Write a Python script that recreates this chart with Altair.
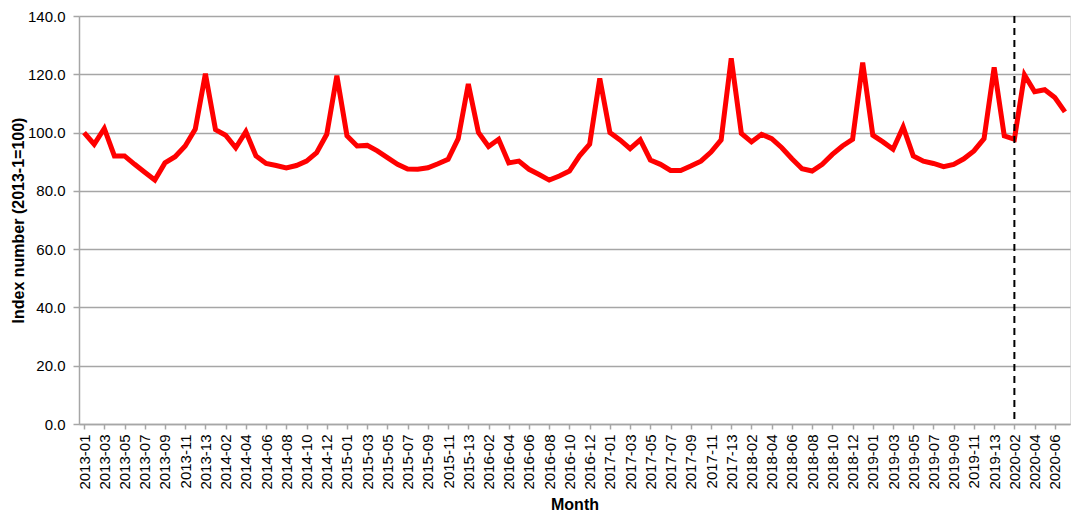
import altair as alt
import pandas as pd

# Period labels: 13 four-week periods per year, 2013-01 .. 2020-07
years_full = [2013, 2014, 2015, 2016, 2017, 2018, 2019]
periods_2020 = ["2020-01", "2020-02", "2020-03", "2020-04", "2020-05", "2020-06", "2020-07"]
months = [f"{y}-{p:02d}" for y in years_full for p in range(1, 14)] + periods_2020

index_values = [
    100.0, 96.0, 101.4, 92.0, 92.0, 89.1, 86.4, 83.7, 89.6, 91.7, 95.4, 101.2, 120.2,   # 2013
    101.0, 99.1, 94.8, 100.3, 92.0, 89.4, 88.7, 87.9, 88.7, 90.2, 93.1, 99.4, 119.5,    # 2014
    98.9, 95.4, 95.6, 93.7, 91.4, 89.1, 87.5, 87.4, 87.9, 89.3, 90.8, 97.9, 116.7,      # 2015
    100.0, 95.2, 97.7, 89.6, 90.2, 87.4, 85.6, 83.7, 85.1, 86.8, 92.0, 96.0, 118.6,     # 2016
    100.0, 97.5, 94.5, 97.5, 90.6, 89.1, 87.0, 87.0, 88.5, 90.2, 93.3, 97.5, 125.5,     # 2017
    99.7, 96.8, 99.4, 97.9, 94.8, 91.0, 87.6, 86.8, 89.1, 92.5, 95.4, 97.7, 124.0,      # 2018
    99.1, 96.8, 94.3, 101.9, 92.0, 90.2, 89.4, 88.3, 89.1, 91.0, 93.7, 97.9, 122.4,     # 2019
    98.9, 97.7, 119.8, 114.0, 114.7, 112.0, 107.1,                                      # 2020
]

tick_labels = months[::2]
marker_period = ["2020-02"]
y_ticks = [0, 20, 40, 60, 80, 100, 120, 140]

df = pd.DataFrame({"Month": months, "Index": index_values})
df_rule = pd.DataFrame({"Month": marker_period})

FONT = "Liberation Sans"
GRID = "#a6a6a6"

x_enc = alt.X(
    "Month:O",
    sort=months,
    scale=alt.Scale(type="point", domain=months, padding=0.5),
    axis=alt.Axis(
        title="Month",
        values=tick_labels,
        labelAngle=-90,
        labelFontSize=15,
        labelFont=FONT,
        labelColor="#000000",
        labelPadding=5,
        tickSize=5,
        tickColor=GRID,
        tickWidth=1.5,
        domainColor=GRID,
        domainWidth=1.5,
        titleFont=FONT,
        titleFontSize=16,
        titleFontWeight="bold",
        titleColor="#000000",
        titlePadding=7,
        grid=False,
    ),
)

line = alt.Chart(df).mark_line(color="#ff0000", strokeWidth=5, strokeJoin="miter").encode(
    x=x_enc,
    y=alt.Y(
        "Index:Q",
        scale=alt.Scale(domain=[0, 140], nice=False),
        axis=alt.Axis(
            title="Index number (2013-1=100)",
            values=y_ticks,
            format=".1f",
            labelFontSize=15,
            labelFont=FONT,
            labelColor="#000000",
            labelPadding=8,
            tickSize=6,
            tickColor=GRID,
            tickWidth=1.5,
            domainColor=GRID,
            domainWidth=1.5,
            gridColor=GRID,
            gridWidth=1.5,
            titleFont=FONT,
            titleFontSize=16,
            titleFontWeight="bold",
            titleColor="#000000",
            titlePadding=1,
        ),
    ),
)

rule = alt.Chart(df_rule).mark_rule(color="#000000", strokeWidth=2, strokeDash=[7, 5]).encode(
    x=alt.X("Month:O", sort=months, scale=alt.Scale(type="point", domain=months, padding=0.5))
)

chart = (
    alt.layer(line, rule)
    .properties(
        width=991,
        height=408,
        autosize=alt.AutoSizeParams(type="none"),
        padding={"left": 71, "top": 8, "right": 6, "bottom": 90},
    )
    .configure_view(stroke=None)
    .configure(background="#ffffff")
)

chart.save("out.html", embed_options={"renderer": "svg", "actions": False})
